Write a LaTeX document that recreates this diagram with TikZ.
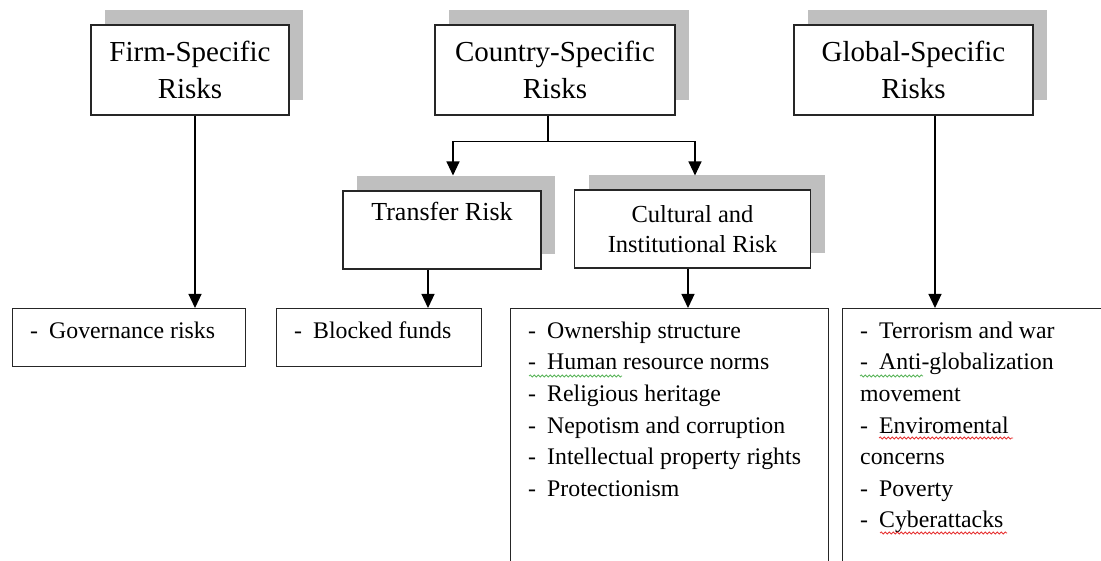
\documentclass[tikz,border=0pt]{standalone}
\usepackage{fontspec}
\setmainfont{Liberation Serif}
\usetikzlibrary{arrows.meta,shadows,decorations.pathmorphing}
\definecolor{spellgreen}{RGB}{90,180,90}
\definecolor{spellred}{RGB}{230,50,50}
\newcommand{\li}{\strut\makebox[19pt][l]{-}}
\begin{document}
\begin{tikzpicture}[x=1pt,y=-1pt]
        % Styles
        \tikzstyle{shade}=[general shadow={fill=black!25,shadow xshift=14pt,shadow yshift=15pt}]
        \tikzstyle{title box}=[draw=black!85,line width=1.1pt,fill=white,shade,minimum height=90pt,inner sep=0pt,align=center,font=\fontsize{29}{37}\selectfont]
        \tikzstyle{sub box}=[draw=black!85,line width=1.1pt,fill=white,shade,inner sep=0pt]
        \tikzstyle{list box}=[draw=black!85,line width=1.1pt,inner sep=0pt,anchor=north west]
        \tikzstyle{list text}=[anchor=north west,inner sep=0pt,align=left,font=\fontsize{23.8}{31.6}\selectfont]
        \tikzstyle{arrow line}=[line width=1.2pt,-{Triangle[length=14pt,width=13pt]}]
        \tikzstyle{spell}=[line width=0.8pt,decorate,decoration={snake,amplitude=1pt,segment length=4pt}]
        %The graphic
        \useasboundingbox (0,0) rectangle (1101,561);
        \clip (0,0) rectangle (1101,561);
        %top boxes
        \foreach \name/\x/\w/\txt in {firm/190/198/{Firm-Specific\\Risks},country/555/240/{Country-Specific\\Risks},global/913.5/239/{Global-Specific\\Risks}}
            \node[title box,minimum width=\w pt] (\name) at (\x,70) {\txt};
        %middle boxes
        \node[sub box,minimum width=198pt,text height=30pt,text depth=48pt,font=\fontsize{26}{30}\selectfont] (transfer) at (442,230) {Transfer Risk};
        \node[sub box,minimum width=236pt,minimum height=78pt,align=center,font=\fontsize{24.5}{30}\selectfont] (cultural) at (692.5,229) {Cultural and\\Institutional Risk};
        %bottom boxes
        \node[list box,minimum width=233pt,minimum height=58pt] (gov) at (12,308) {};
        \node[list box,minimum width=205pt,minimum height=58pt] (blocked) at (276,308) {};
        \node[list box,minimum width=318pt,minimum height=292pt] (own) at (510,308) {};
        \node[list box,minimum width=273pt,minimum height=292pt] (terr) at (842,308) {};
        \node[list text] (gov text) at ([xshift=18pt,yshift=-8pt]gov.north west) {\li Governance risks};
        \node[list text] (blocked text) at ([xshift=18pt,yshift=-8pt]blocked.north west) {\li Blocked funds};
        \node[list text] (own text) at ([xshift=18pt,yshift=-8pt]own.north west) {\li Ownership structure\\
            \li Human resource norms\\
            \li Religious heritage\\
            \li Nepotism and corruption\\
            \li Intellectual property rights\\
            \li Protectionism};
        \node[list text] (terr text) at ([xshift=18pt,yshift=-8pt]terr.north west) {\li Terrorism and war\\
            \li Anti-globalization\\
            movement\\
            \li Enviromental\\
            concerns\\
            \li Poverty\\
            \li Cyberattacks};
        %arrows
        \draw[arrow line] ([xshift=5pt]firm.south) -- ([xshift=5pt]firm.south |- gov.north);
        \draw[arrow line] ([xshift=-7pt]country.south) -- ++(0,26) -| ([xshift=11pt,yshift=15pt]transfer.north);
        \draw[arrow line] ([xshift=-7pt]country.south) -- ++(0,26) -| ([xshift=2.5pt,yshift=14pt]cultural.north);
        \draw[arrow line] ([xshift=-14pt]transfer.south) -- ([xshift=-14pt]transfer.south |- blocked.north);
        \draw[arrow line] ([xshift=-4.5pt]cultural.south) -- ([xshift=-4.5pt]cultural.south |- own.north);
        \draw[arrow line] ([xshift=21.5pt]global.south) -- ([xshift=21.5pt]global.south |- terr.north);
        %spelling marks
        \draw[spell,spellgreen] (529,376) -- (622,376);
        \draw[spell,spellgreen] (860,376) -- (923,376);
        \draw[spell,spellred] (879,438) -- (1013,438);
        \draw[spell,spellred] (880,533) -- (1007,533);
\end{tikzpicture}
\end{document}
